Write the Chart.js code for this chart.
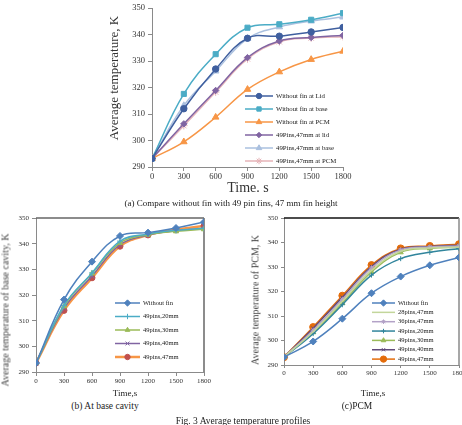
<!DOCTYPE html>
<html lang="en">
<head>
<meta charset="UTF-8">
<title>Average temperature profiles</title>
<script src="https://cdn.jsdelivr.net/npm/chart.js@4.4.1/dist/chart.umd.min.js"></script>
<style>
    * { margin: 0; padding: 0; }
    body { width: 462px; height: 425px; overflow: hidden; background: #fff; position: relative; font-family: "Liberation Serif", serif; color: #222; }
    canvas { position: absolute; }
    .t { position: absolute; white-space: nowrap; transform: translate(-50%, -50%); }
    .rot { transform: translate(-50%, -50%) rotate(-90deg); }
</style>
</head>
<body>
<canvas id="cA" width="260" height="185" style="left:100px;top:0px"></canvas>
<canvas id="cB" width="225" height="185" style="left:0px;top:205px"></canvas>
<canvas id="cC" width="240" height="185" style="left:240px;top:205px"></canvas>

<div class="t rot" style="left:114px;top:78px;font-size:13px;color:#333">Average temperature, K</div>
<div class="t" style="left:248px;top:188px;font-size:14px;color:#333">Time. s</div>
<div class="t" style="left:231px;top:203px;font-size:9px">(a) Compare without fin with 49 pin fins, 47 mm fin height</div>

<div class="t rot" style="left:5px;top:310px;font-size:10px;color:#444">Average temperature of base cavity, K</div>
<div class="t" style="left:125px;top:393px;font-size:9px">Time,s</div>
<div class="t" style="left:105px;top:406px;font-size:9.5px">(b) At base cavity</div>

<div class="t rot" style="left:255px;top:300px;font-size:10px;color:#444">Average temperature of PCM, K</div>
<div class="t" style="left:373px;top:393px;font-size:9px">Time,s</div>
<div class="t" style="left:357px;top:406px;font-size:9.5px">(c)PCM</div>

<div class="t" style="left:243px;top:421px;font-size:9.5px">Fig. 3 Average temperature profiles</div>

<script>
    // time in seconds
    const times = [0, 300, 600, 900, 1200, 1500, 1800]

    // (a) lid / base / PCM, without fin vs 49 pins 47 mm
    const aLidNoFin = [293.2, 312.0, 327.0, 338.6, 339.4, 341.0, 342.7]
    const aBaseNoFin = [293.2, 317.6, 332.6, 342.6, 343.9, 345.6, 348.1]
    const aPcmNoFin = [293.2, 299.5, 308.8, 319.3, 325.9, 330.6, 333.7]
    const aLidFin = [293.2, 306.3, 318.9, 331.3, 337.6, 338.9, 339.7]
    const aBaseFin = [293.2, 313.2, 326.2, 338.5, 342.9, 345.1, 346.6]
    const aPcmFin = [293.2, 305.6, 318.3, 330.8, 337.3, 338.7, 339.2]

    // (b) base cavity
    const bNoFin = [293.5, 318.2, 333.0, 343.0, 344.3, 346.1, 348.4]
    const b20mm = [293.5, 316.0, 328.6, 341.0, 343.8, 345.2, 346.0]
    const b30mm = [293.5, 315.6, 328.4, 340.3, 343.5, 344.8, 345.6]
    const b40mm = [293.5, 314.8, 327.4, 339.6, 343.3, 345.0, 346.0]
    const b47mm = [293.5, 314.0, 326.7, 339.0, 343.4, 345.4, 346.9]

    // (c) PCM
    const cNoFin = [293.2, 299.6, 308.9, 319.3, 326.1, 330.7, 333.9]
    const c28pins = [293.2, 303.6, 316.0, 328.6, 336.4, 337.8, 338.2]
    const c36pins = [293.2, 304.2, 316.8, 329.6, 337.0, 338.2, 338.6]
    const c20mm = [293.2, 302.8, 314.6, 326.7, 333.4, 336.0, 337.5]
    const c30mm = [293.2, 303.4, 315.3, 328.0, 336.0, 337.6, 338.0]
    const c40mm = [293.2, 305.0, 317.6, 330.2, 337.3, 338.4, 338.9]
    const c47mm = [293.2, 305.5, 318.3, 330.8, 337.6, 338.6, 339.3]

    const yTicks = [290, 300, 310, 320, 330, 340, 350]
    const xTicks = [0, 300, 600, 900, 1200, 1500, 1800]

    Chart.defaults.font.family = "Liberation Serif"
    Chart.defaults.color = "#333"

    function pts(vals) {
        return vals.map((v, i) => ({ x: times[i], y: v }))
    }

    function series(label, vals, color, style, radius, markColor, width) {
        return {
            label: label,
            data: pts(vals),
            borderColor: color,
            backgroundColor: color,
            pointBackgroundColor: markColor || color,
            pointBorderColor: markColor || color,
            pointStyle: style,
            pointRadius: radius,
            pointBorderWidth: 1,
            borderWidth: width || 1.5,
            tension: 0.4,
            fill: false,
        }
    }

    // legend drawn inside the plot
    const inLegend = {
        id: 'inLegend',
        afterDatasetsDraw(chart, args, o) {
            const ctx = chart.ctx
            ctx.save()
            ctx.font = o.font
            ctx.textBaseline = 'middle'
            chart.data.datasets.forEach((ds, i) => {
                const y = o.y + i * o.gap
                ctx.strokeStyle = ds.borderColor
                ctx.lineWidth = ds.borderWidth
                ctx.beginPath()
                ctx.moveTo(o.x, y)
                ctx.lineTo(o.x + o.len, y)
                ctx.stroke()
                ctx.fillStyle = ds.pointBackgroundColor
                ctx.strokeStyle = ds.pointBorderColor
                ctx.lineWidth = 1
                Chart.helpers.drawPoint(ctx, { pointStyle: ds.pointStyle, radius: ds.pointRadius * o.mk, borderWidth: 1, rotation: 0 }, o.x + o.len / 2, y)
                ctx.fillStyle = '#222'
                ctx.fillText(ds.label, o.x + o.len + 3, y)
            })
            ctx.restore()
        }
    }

    // top / right frame lines
    const frame = {
        id: 'frame',
        beforeDatasetsDraw(chart, args, o) {
            const a = chart.chartArea
            const ctx = chart.ctx
            ctx.save()
            ctx.lineWidth = 1.5
            if (o.top) {
                ctx.strokeStyle = o.top
                ctx.beginPath(); ctx.moveTo(a.left, a.top); ctx.lineTo(a.right, a.top); ctx.stroke()
            }
            if (o.right) {
                ctx.strokeStyle = o.right
                ctx.beginPath(); ctx.moveTo(a.right, a.top); ctx.lineTo(a.right, a.bottom); ctx.stroke()
            }
            ctx.restore()
        }
    }

    function makeChart(id, datasets, lay) {
        return new Chart(document.getElementById(id), {
            type: 'line',
            data: { datasets: datasets },
            plugins: [frame, inLegend],
            options: {
                responsive: false,
                animation: false,
                devicePixelRatio: 1,
                layout: { padding: { top: lay.top, right: lay.right, left: 0, bottom: 0 } },
                plugins: {
                    legend: { display: false },
                    tooltip: { enabled: false },
                    frame: lay.frame,
                    inLegend: lay.legend,
                },
                scales: {
                    x: {
                        type: 'linear', min: 0, max: 1800,
                        afterBuildTicks: s => { s.ticks = xTicks.map(v => ({ value: v })) },
                        afterFit: s => { s.height = lay.xh },
                        grid: { drawOnChartArea: false, tickLength: lay.tick, color: '#8a8a8a' },
                        border: { color: '#8a8a8a', width: 1 },
                        ticks: { font: { size: lay.fs }, padding: 1, maxRotation: 0, color: '#333', callback: v => String(v) },
                    },
                    y: {
                        min: 290, max: 350,
                        afterBuildTicks: s => { s.ticks = yTicks.map(v => ({ value: v })) },
                        afterFit: s => { s.width = lay.yw },
                        grid: { drawOnChartArea: false, tickLength: lay.tick, color: '#8a8a8a' },
                        border: { color: '#8a8a8a', width: 1 },
                        ticks: { font: { size: lay.fs }, padding: 3, color: '#333', callback: v => String(v) },
                    }
                }
            }
        })
    }

    makeChart('cA', [
        series('Without fin at Lid', aLidNoFin, '#3f5f9f', 'circle', 3.2),
        series('Without fin at base', aBaseNoFin, '#4bacc6', 'rect', 3.6),
        series('Without fin at PCM', aPcmNoFin, '#f79646', 'triangle', 3.8),
        series('49Pins,47mm at lid', aLidFin, '#8064a2', 'rectRot', 3.2),
        series('49Pins,47mm at base', aBaseFin, '#aac0df', 'triangle', 3.8),
        series('49Pins,47mm at PCM', aPcmFin, '#e6b4b8', 'star', 3.8),
    ], {
        top: 4, right: 17, xh: 18, yw: 52, tick: 4, fs: 8.5,
        frame: {},
        legend: { x: 145, y: 96, gap: 13, len: 28, mk: 0.85, font: '6.8px "Liberation Serif"' },
    })

    makeChart('cB', [
        series('Without fin', bNoFin, '#4f81bd', 'rectRot', 3.5),
        series('49pins,20mm', b20mm, '#4bacc6', 'cross', 3),
        series('49pins,30mm', b30mm, '#9bbb59', 'triangle', 3),
        series('49pins,40mm', b40mm, '#8064a2', 'crossRot', 3),
        series('49pins,47mm', b47mm, '#f79646', 'circle', 3, '#c0504d', 2.5),
    ], {
        top: 13, right: 21, xh: 18, yw: 36, tick: 4, fs: 7,
        frame: { top: '#666', right: '#666' },
        legend: { x: 115, y: 98, gap: 13.5, len: 25, mk: 0.9, font: '6.5px "Liberation Serif"' },
    })

    makeChart('cC', [
        series('Without fin', cNoFin, '#4f81bd', 'rectRot', 3.5),
        series('28pins,47mm', c28pins, '#c3d69b', 'line', 0),
        series('36pins,47mm', c36pins, '#b3a2c7', 'star', 2.5),
        series('49pins,20mm', c20mm, '#31859c', 'cross', 2.5),
        series('49pins,30mm', c30mm, '#9bbb59', 'triangle', 3),
        series('49pins,40mm', c40mm, '#604a7b', 'crossRot', 2.5),
        series('49pins,47mm', c47mm, '#e46c0a', 'circle', 3.5),
    ], {
        top: 13, right: 21, xh: 25, yw: 44, tick: 3, fs: 7,
        frame: { top: '#111', right: '#8a8a8a' },
        legend: { x: 132, y: 98, gap: 9.35, len: 23, mk: 0.9, font: '6.5px "Liberation Serif"' },
    })
</script>
</body>
</html>
